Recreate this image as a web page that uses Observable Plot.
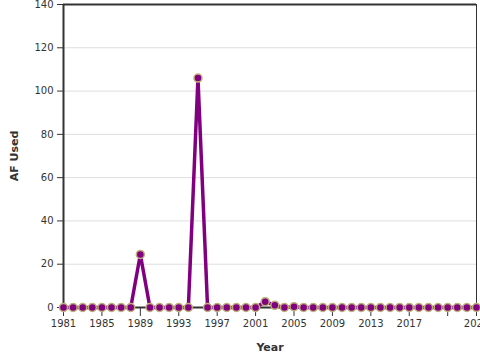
<!DOCTYPE html>
<html>
<head>
<meta charset="utf-8">
<script src="https://cdn.jsdelivr.net/npm/d3@7"></script>
<script src="https://cdn.jsdelivr.net/npm/@observablehq/plot@0.6"></script>
<style>
  html, body { margin: 0; padding: 0; background: #fff; overflow: hidden; width: 480px; height: 360px; }
  #chart svg { display: block; overflow: visible; }
</style>
</head>
<body>
<div id="chart"></div>
<script>
const years = d3.range(1981, 2025);
const afUsed = [
  0, 0, 0, 0, 0, 0, 0, 0, 24.5, 0,
  0, 0, 0, 0, 106, 0, 0, 0, 0, 0,
  0, 2.7, 1.0, 0, 0.4, 0, 0, 0, 0, 0,
  0, 0, 0, 0, 0, 0, 0, 0, 0, 0,
  0, 0, 0, 0
];
const xTicks = [1981, 1985, 1989, 1993, 1997, 2001, 2005, 2009, 2013, 2017, 2021, 2024];
const xTickLabels = ["1981", "1985", "1989", "1993", "1997", "2001", "2005", "2009", "2013", "2017", "", "2024"];
const yTicks = [0, 20, 40, 60, 80, 100, 120, 140];

const data = years.map((y, i) => ({year: y, af: afUsed[i]}));

const chart = Plot.plot({
  width: 480,
  height: 360,
  marginTop: 4,
  marginRight: 4,
  marginBottom: 53,
  marginLeft: 63,
  style: {fontFamily: "DejaVu Sans", fontSize: "10px", color: "#333", background: "#fff"},
  x: {domain: [1981, 2024], ticks: xTicks, tickFormat: d => xTickLabels[xTicks.indexOf(d)], tickSize: 9, tickPadding: 3, label: null},
  y: {domain: [0, 140], ticks: yTicks, tickSize: 6, tickPadding: 3, label: null},
  marks: [
    Plot.gridY(yTicks, {stroke: "#ddd", strokeOpacity: 1, strokeWidth: 1}),
    Plot.axisY({ticks: yTicks, tickSize: 6, tickPadding: 4, label: null, stroke: "#333", fontSize: 10}),
    Plot.axisX({ticks: xTicks, tickFormat: d => xTickLabels[xTicks.indexOf(d)], tickSize: 9, tickPadding: 3, label: null, stroke: "#333", fontSize: 10}),
    Plot.ruleY([0], {stroke: "#333", strokeWidth: 2}),
    Plot.ruleX([1981], {stroke: "#333", strokeWidth: 2}),
    Plot.ruleY([140], {stroke: "#333", strokeWidth: 2}),
    Plot.ruleX([2024], {stroke: "#333", strokeWidth: 1}),
    Plot.line(data, {x: "year", y: "af", stroke: "purple", strokeWidth: 3.5}),
    Plot.dot(data, {x: "year", y: "af", r: 4, fill: "purple", stroke: "#bfb07a", strokeWidth: 1.5}),
    Plot.text(["Year"], {frameAnchor: "bottom", dy: 43, fontWeight: "bold", fontSize: 11, fill: "#333"}),
    Plot.text(["AF Used"], {frameAnchor: "left", dx: -49, rotate: -90, textAnchor: "middle", fontWeight: "bold", fontSize: 11, fill: "#333"})
  ]
});
document.getElementById("chart").appendChild(chart);
</script>
</body>
</html>
